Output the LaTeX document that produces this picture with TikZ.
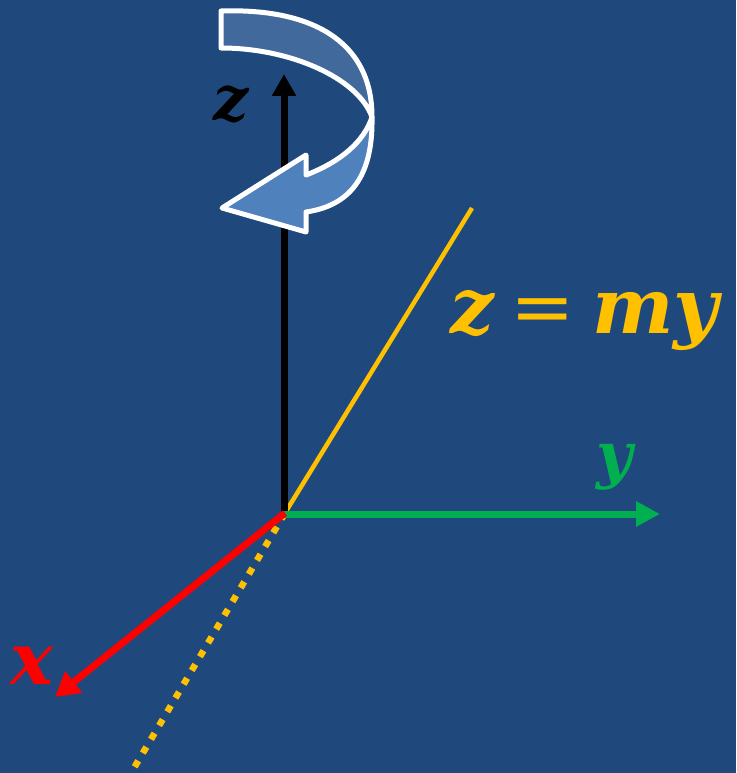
\documentclass[tikz,border=0pt]{standalone}
\usepackage{fontspec}
\setmainfont{DejaVu Serif}
\usetikzlibrary{arrows.meta}
\definecolor{bg}{HTML}{1F497D}
\definecolor{bandtop}{HTML}{41699B}
\definecolor{bandlow}{HTML}{4F81BD}
\definecolor{ygreen}{HTML}{00B050}
\definecolor{lineyellow}{HTML}{FFC000}
\tikzset{
  axis/.style={line width=7pt},
  band/.style={draw=white, line width=5pt, line join=round},
  lbl/.style={inner sep=0pt, anchor=base west, font=\bfseries\itshape}
}
\begin{document}
\begin{tikzpicture}[x=1pt,y=-1pt]
\fill[bg] (0,0) rectangle (736,773);
\useasboundingbox (0,0) rectangle (736,773);
\coordinate (O) at (285,513);
\coordinate (ztip) at (284,74);
\coordinate (ytip) at (660,514);
\coordinate (xtip) at (55,697);
\coordinate (lineend) at (472,208);
\coordinate (dotend) at (131,773);
% yellow lines
\draw[lineyellow, line width=6.5pt, dash pattern=on 7pt off 9pt] (O) -- (dotend);
\draw[lineyellow, line width=4.5pt] (O) -- (lineend);
% axes
\draw[axis, black, -{Triangle[length=22pt,width=23pt]}] (284,513) -- (ztip);
\draw[axis, ygreen, -{Triangle[length=24pt,width=24pt]}] (284,514) -- (ytip);
\draw[axis, red, -{Triangle[length=24pt,width=26pt]}] (O) -- (xtip);
% rotation arrow
\draw[band, fill=bandtop] (221,11) .. controls (310,8) and (372,40) .. (372,117)
  .. controls (358,78) and (290,48) .. (221,48) -- cycle;
\draw[band, fill=bandlow] (372,117) .. controls (373,170) and (355,205) .. (306,212)
  -- (306,232) -- (222,208) -- (306,155) -- (306,175)
  .. controls (340,162) and (364,142) .. (372,117) -- cycle;
% labels
\node[lbl, black] (zl) at (213,121) {\fontsize{62}{64}\selectfont z};
\node[lbl, ygreen] (yl) at (596,476) {\fontsize{62}{64}\selectfont y};
\node[lbl, red] (xl) at (10,684) {\fontsize{72}{74}\selectfont x};
\node[lbl, lineyellow] (eq) at (450,333) {\fontsize{77}{80}\selectfont z\hspace{0.22em}{\normalfont =}\hspace{0.22em}my};
\end{tikzpicture}
\end{document}
